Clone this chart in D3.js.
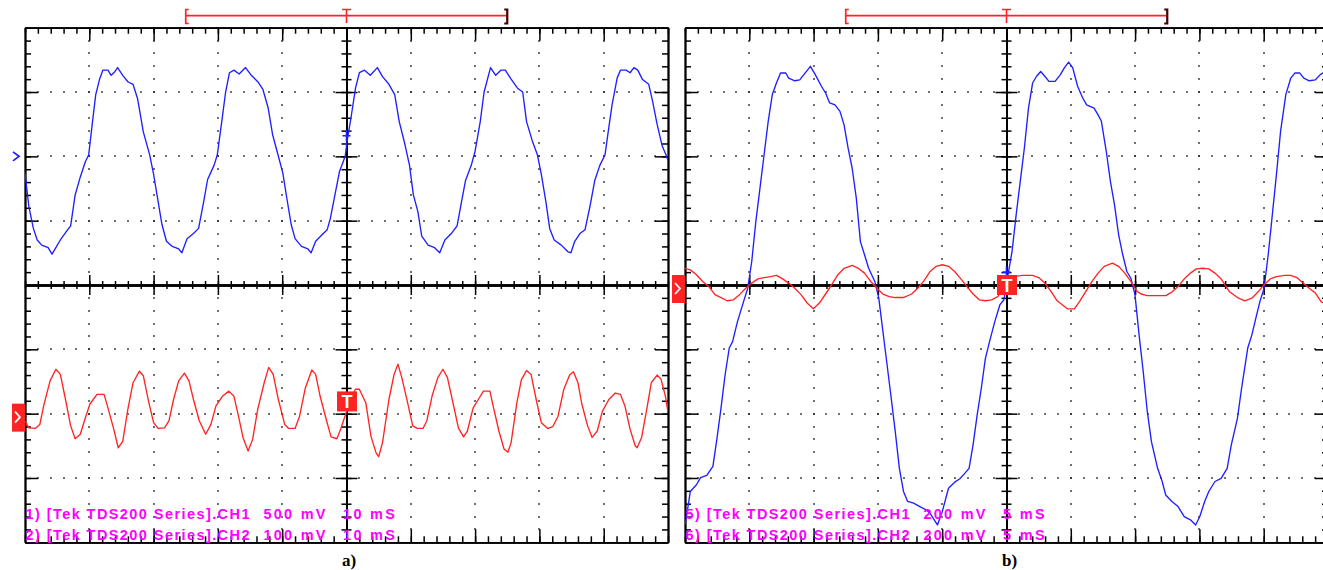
<!DOCTYPE html>
<html>
<head>
<meta charset="utf-8">
<title>TDS200 captures</title>
<script src="https://d3js.org/d3.v7.min.js"></script>
<style>
  body { margin: 0; background: #fff; }
  svg { display: block; }
  .frame path.domain { stroke: #000; stroke-width: 1.8; }
  .frame line { stroke: #000; stroke-width: 1.5; }
  .trace { fill: none; stroke-width: 1.35; stroke-linejoin: round; }
  .info { font-family: "Liberation Sans", Arial, sans-serif; font-weight: bold; font-size: 14.5px; fill: #ff00ff; }
  .caption { font-family: "Liberation Serif", "Times New Roman", serif; font-weight: bold; font-size: 17px; fill: #000; }
</style>
</head>
<body>
<svg id="scope" width="1323" height="570"></svg>
<script>
// scope settings for the two captures
const captions = ["a)", "b)"];
const msPerDiv = [10, 5];
const ch1mVPerDiv = [500, 200];
const ch2mVPerDiv = [100, 200];
const ch1Position = [2, 0];    // ground marker, in divisions from centre
const ch2Position = [-2, 0];
const ch1Labels = ["1) [Tek TDS200 Series].CH1", "5) [Tek TDS200 Series].CH1"];
const ch2Labels = ["2) [Tek TDS200 Series].CH2", "6) [Tek TDS200 Series].CH2"];
const ch1Volts = ["500 mV", "200 mV"];
const ch2Volts = ["100 mV", "200 mV"];
const timeLabels = ["10 mS", "5 mS"];
const trigLevelCh2 = [19, 0];   // mV
const ch1LevelMark = [160, 40]; // mV

// [time ms, mV]
const traceA1 = [[0.0,-130],[0.6,-390],[1.3,-560],[1.9,-650],[2.6,-690],[3.6,-710],[4.2,-760],[4.8,-710],[5.5,-650],[6.5,-580],[7.1,-540],[7.8,-300],[8.6,-160],[9.4,-40],[9.9,10],[10.5,270],[11.0,480],[11.6,600],[12.1,670],[12.9,670],[13.4,630],[14.0,660],[14.4,690],[15.2,630],[16.0,580],[16.8,560],[17.5,450],[18.4,190],[19.4,10],[20.0,-140],[20.7,-350],[21.3,-530],[22.0,-660],[22.9,-700],[23.9,-720],[24.4,-750],[25.2,-640],[26.2,-600],[27.0,-560],[27.8,-350],[28.4,-180],[29.4,-70],[29.9,10],[30.6,270],[31.2,500],[31.8,650],[32.5,670],[33.3,640],[34.3,690],[35.2,630],[36.2,580],[37.0,520],[37.8,380],[38.5,170],[39.2,40],[40.1,-130],[40.7,-320],[41.4,-530],[42.0,-640],[43.0,-700],[44.0,-720],[44.5,-750],[45.2,-660],[46.2,-610],[47.0,-570],[47.5,-480],[48.2,-300],[48.9,-120],[49.8,0],[50.1,120],[50.7,300],[51.4,530],[52.0,650],[52.8,670],[53.7,630],[54.8,690],[55.6,620],[56.6,560],[57.5,480],[58.2,270],[59.1,90],[59.8,-70],[60.4,-300],[61.1,-430],[61.7,-620],[62.7,-690],[63.7,-710],[64.5,-750],[65.3,-650],[66.3,-600],[67.2,-540],[67.9,-350],[68.5,-190],[69.4,-70],[70.0,40],[70.8,270],[71.4,500],[72.4,690],[73.2,630],[74.0,670],[74.7,670],[75.6,600],[76.6,530],[77.4,500],[78.0,270],[78.9,120],[79.7,10],[80.3,-140],[81.0,-350],[81.6,-560],[82.3,-650],[83.4,-690],[84.4,-740],[84.9,-750],[85.5,-660],[86.3,-600],[87.1,-570],[87.9,-380],[88.6,-190],[89.4,-70],[90.2,10],[90.7,190],[91.3,400],[92.1,610],[92.6,670],[93.5,670],[94.1,650],[94.7,690],[95.3,670],[96.0,600],[97.0,560],[97.6,430],[98.3,250],[99.1,80],[99.7,10],[100.0,-30]];

const traceA2 = [[0.0,-11],[0.6,-22],[1.6,-23],[2.3,-17],[2.9,12],[3.9,51],[4.8,69],[5.5,61],[6.3,22],[7.1,-19],[7.8,-39],[8.6,-32],[9.4,-6],[10.1,15],[11.2,30],[12.3,30],[12.9,9],[13.8,-24],[14.5,-53],[15.2,-43],[16.0,7],[16.8,48],[17.8,66],[18.4,59],[19.2,20],[20.0,-14],[20.7,-23],[21.7,-22],[22.4,-11],[23.1,22],[23.9,51],[24.8,63],[25.5,51],[26.2,22],[27.1,-11],[28.1,-32],[28.9,-17],[29.7,12],[30.7,27],[31.7,35],[32.5,27],[33.2,-4],[33.9,-37],[34.7,-58],[35.4,-40],[36.2,7],[37.2,48],[37.9,72],[38.6,61],[39.4,22],[40.4,-17],[41.0,-23],[42.0,-23],[42.7,-4],[43.6,40],[44.6,68],[45.2,61],[45.9,27],[46.9,-11],[47.6,-36],[48.5,-39],[49.1,-24],[49.9,0],[50.7,25],[51.4,38],[52.0,38],[53.0,17],[53.8,-35],[54.6,-61],[55.0,-67],[55.6,-45],[56.6,22],[57.4,61],[58.0,77],[58.6,56],[59.5,17],[60.3,-19],[61.0,-23],[61.9,-23],[62.5,-11],[63.3,27],[64.2,56],[65.0,69],[65.7,56],[66.6,15],[67.4,-22],[68.2,-36],[68.8,-27],[69.7,9],[70.5,22],[71.3,35],[72.3,35],[72.8,12],[73.7,-27],[74.5,-55],[75.1,-60],[75.6,-45],[76.5,17],[77.2,53],[78.0,67],[78.7,61],[79.5,22],[80.3,-14],[81.3,-23],[82.1,-20],[82.9,-4],[83.8,38],[84.7,60],[85.3,65],[86.0,48],[86.6,15],[87.5,-19],[88.2,-37],[89.0,-27],[89.8,4],[90.8,22],[91.8,32],[92.6,30],[93.3,12],[94.1,-24],[94.9,-50],[95.2,-53],[95.9,-37],[96.7,7],[97.4,48],[98.3,60],[98.9,54],[99.6,27],[100.0,2]];

const traceB1 = [[0.0,-745],[0.10,-725],[0.41,-642],[0.89,-621],[1.21,-599],[1.69,-592],[2.17,-564],[2.49,-476],[2.80,-383],[3.12,-279],[3.44,-196],[3.70,-176],[4.08,-114],[4.56,-51],[4.88,-10],[5.19,73],[5.51,198],[5.83,301],[6.15,405],[6.47,509],[6.79,592],[7.11,628],[7.43,659],[7.84,659],[8.06,643],[8.54,635],[8.92,638],[9.34,659],[9.75,680],[10.13,654],[10.61,618],[10.93,597],[11.25,566],[11.66,560],[12.05,540],[12.37,498],[12.68,426],[13.00,363],[13.32,270],[13.64,135],[13.96,94],[14.28,52],[14.76,11],[15.07,-41],[15.23,-93],[15.55,-196],[15.94,-321],[16.35,-456],[16.67,-570],[16.99,-642],[17.31,-673],[17.78,-678],[18.26,-689],[18.74,-699],[19.06,-710],[19.38,-730],[19.63,-746],[20.01,-704],[20.49,-632],[20.97,-613],[21.35,-603],[21.77,-585],[22.09,-570],[22.40,-497],[22.72,-404],[23.04,-321],[23.36,-228],[23.68,-176],[24.09,-114],[24.48,-62],[24.80,-46],[25.12,32],[25.43,104],[25.75,218],[26.07,322],[26.39,426],[26.71,550],[27.03,628],[27.34,649],[27.66,664],[27.98,649],[28.30,633],[28.78,633],[29.19,654],[29.51,676],[29.83,693],[30.15,675],[30.53,618],[30.91,583],[31.23,560],[31.81,550],[32.12,529],[32.38,509],[32.76,415],[33.08,322],[33.40,249],[33.72,156],[34.04,94],[34.36,42],[34.67,21],[34.99,-30],[35.31,-155],[35.63,-269],[35.95,-394],[36.27,-487],[36.75,-570],[37.07,-606],[37.38,-653],[37.86,-673],[38.34,-689],[38.82,-720],[39.30,-730],[39.71,-746],[40.03,-720],[40.41,-673],[40.73,-642],[41.21,-611],[41.69,-601],[42.16,-570],[42.48,-497],[42.96,-414],[43.28,-321],[43.76,-196],[44.08,-155],[44.39,-103],[44.71,-51],[45.03,-10],[45.35,94],[45.67,218],[45.99,343],[46.31,477],[46.72,592],[47.10,643],[47.42,659],[47.81,659],[48.12,643],[48.54,635],[49.02,638],[49.40,654],[49.59,659],[50.0,650]];

const traceB2 = [[0.00,52],[0.41,47],[0.89,32],[1.37,11],[1.85,-5],[2.33,-30],[2.80,-39],[3.28,-49],[3.76,-46],[4.24,-30],[4.72,-10],[5.19,6],[5.67,19],[6.15,23],[6.63,26],[7.11,30],[7.59,19],[8.06,6],[8.54,-10],[9.02,-30],[9.50,-56],[9.98,-74],[10.45,-56],[10.93,-28],[11.41,1],[11.89,32],[12.37,52],[13.00,61],[13.48,52],[13.96,37],[14.44,11],[14.92,-10],[15.39,-28],[15.87,-36],[16.35,-39],[16.99,-39],[17.62,-28],[18.10,-10],[18.58,13],[19.06,42],[19.54,58],[20.01,63],[20.49,58],[20.97,42],[21.45,19],[21.93,-5],[22.40,-28],[22.88,-46],[23.36,-49],[23.84,-46],[24.32,-36],[24.80,-10],[25.20,15],[25.60,26],[26.23,30],[27.03,30],[27.50,23],[27.98,6],[28.46,-20],[28.94,-49],[29.73,-74],[30.28,-74],[30.69,-51],[31.17,-20],[31.65,11],[32.12,37],[32.60,58],[33.24,68],[33.72,58],[34.20,37],[34.67,11],[35.15,-20],[35.47,-28],[35.95,-33],[36.59,-33],[37.38,-33],[37.86,-22],[38.34,-5],[38.82,19],[39.30,37],[39.77,50],[40.25,52],[40.73,50],[41.21,37],[41.69,19],[42.32,-20],[42.96,-39],[43.53,-49],[44.08,-41],[44.55,-22],[45.03,1],[45.51,19],[45.99,26],[46.63,30],[47.10,30],[47.58,23],[48.06,6],[48.54,-10],[49.02,-25],[49.49,-53],[50.0,-60]];

const ch1Traces = [traceA1, traceB1];
const ch2Traces = [traceA2, traceB2];

const svg = d3.select("#scope");
const panelLeft = [25, 685];
const panelTop = 27.7;
const panelW = 643;
const panelH = 514.6;
const blue = "#1f1fff";
const red = "#ff2424";

const minorX = d3.range(0, 51).map(k => k / 5);
const minorY = d3.range(0, 41).map(k => k / 5 - 4);
const majorX = d3.range(1, 10);
const majorY = d3.range(-3, 4);

// inward ticks (minor and major) along one edge, plus its line
function tickAxis(g, axisFn, scale, minorLen, majorLen, majors, transform) {
    const minors = scale.domain()[1] === 10 ? minorX : minorY;
    g.append("g").attr("class", "frame").attr("transform", transform)
        .call(axisFn(scale).tickValues(minors).tickSize(minorLen).tickSizeOuter(0).tickFormat(""));
    g.append("g").attr("class", "frame").attr("transform", transform)
        .call(axisFn(scale).tickValues(majors).tickSize(majorLen).tickSizeOuter(0).tickFormat(""));
}

captions.forEach((cap, i) => {
    const x0 = panelLeft[i];
    const g = svg.append("g");
    const bottom = panelTop + panelH;

    const divX = d3.scaleLinear().domain([0, 10]).range([x0, x0 + panelW]);
    const divY = d3.scaleLinear().domain([-4, 4]).range([bottom, panelTop]);
    const tScale = d3.scaleLinear().domain([0, 10 * msPerDiv[i]]).range([x0, x0 + panelW]);
    const y1 = d3.scaleLinear()
        .domain([(-4 - ch1Position[i]) * ch1mVPerDiv[i], (4 - ch1Position[i]) * ch1mVPerDiv[i]])
        .range([bottom, panelTop]);
    const y2 = d3.scaleLinear()
        .domain([(-4 - ch2Position[i]) * ch2mVPerDiv[i], (4 - ch2Position[i]) * ch2mVPerDiv[i]])
        .range([bottom, panelTop]);

    // dotted graticule
    const dots = [];
    majorX.filter(d => d !== 5).forEach(dx => minorY.filter(d => Math.abs(d) < 4).forEach(dy => dots.push([dx, dy])));
    majorY.filter(d => d !== 0).forEach(dy => minorX.filter(d => d > 0 && d < 10).forEach(dx => dots.push([dx, dy])));
    g.append("g").selectAll("rect").data(dots).join("rect")
        .attr("x", d => Math.round(divX(d[0])) - 0.8)
        .attr("y", d => Math.round(divY(d[1])) - 0.8)
        .attr("width", 1.6).attr("height", 1.6)
        .attr("fill", "#222");

    // border with inward ticks
    tickAxis(g, d3.axisBottom, divX, 6, 13, majorX, `translate(0,${panelTop})`);
    tickAxis(g, d3.axisTop, divX, 6, 13, majorX, `translate(0,${bottom})`);
    tickAxis(g, d3.axisRight, divY, 6, 13, majorY, `translate(${x0},0)`);
    tickAxis(g, d3.axisLeft, divY, 6, 13, majorY, `translate(${x0 + panelW},0)`);

    // centre cross
    tickAxis(g, d3.axisLeft, divY, 5, 11, majorY, `translate(${divX(5)},0)`);
    tickAxis(g, d3.axisRight, divY, 5, 11, majorY, `translate(${divX(5)},0)`);
    tickAxis(g, d3.axisTop, divX, 4, 10, majorX, `translate(0,${divY(0)})`);
    tickAxis(g, d3.axisBottom, divX, 4, 10, majorX, `translate(0,${divY(0)})`);

    // traces
    g.append("clipPath").attr("id", "clip" + i)
        .append("rect").attr("x", x0).attr("y", panelTop).attr("width", panelW).attr("height", panelH);
    const line1 = d3.line().x(d => tScale(d[0])).y(d => y1(d[1]));
    const line2 = d3.line().x(d => tScale(d[0])).y(d => y2(d[1]));
    g.append("path").datum(ch1Traces[i]).attr("class", "trace")
        .attr("clip-path", `url(#clip${i})`).attr("stroke", blue).attr("d", line1);
    g.append("path").datum(ch2Traces[i]).attr("class", "trace")
        .attr("clip-path", `url(#clip${i})`).attr("stroke", red).attr("d", line2);

    // horizontal position bracket above the screen
    const bx0 = divX(2.5), bx1 = divX(7.5), bc = divX(5);
    g.append("line").attr("x1", bx0).attr("x2", bx1).attr("y1", 15.7).attr("y2", 15.7)
        .attr("stroke", red).attr("stroke-width", 1.7);
    g.append("path").attr("d", `M${bx0 + 3},9.5H${bx0}V23.5H${bx0 + 3}`)
        .attr("fill", "none").attr("stroke", red).attr("stroke-width", 1.7);
    g.append("path").attr("d", `M${bx1 - 3},9.5H${bx1}V23.5H${bx1 - 3}`)
        .attr("fill", "none").attr("stroke", "#400").attr("stroke-width", 2.2);
    g.append("path").attr("d", `M${bc - 4.5},9.5H${bc + 4.5}M${bc},9.5V23`)
        .attr("fill", "none").attr("stroke", red).attr("stroke-width", 1.6);

    // channel ground markers
    const g1 = y1(0), g2 = y2(0);
    g.append("path").attr("d", `M${x0 - 12},${g1 - 4.5}L${x0 - 6},${g1}L${x0 - 12},${g1 + 4.5}`)
        .attr("fill", "none").attr("stroke", blue).attr("stroke-width", 1.8);
    g.append("rect").attr("x", x0 - 13).attr("y", g2 - 10).attr("width", 13).attr("height", 28).attr("fill", red);
    g.append("path").attr("d", `M${x0 - 10},${g2 - 2}L${x0 - 5},${g2 + 3.5}L${x0 - 10},${g2 + 9}`)
        .attr("fill", "none").attr("stroke", "#fff").attr("stroke-width", 1.8);

    // CH1 level mark
    const m1 = y1(ch1LevelMark[i]);
    g.append("path").attr("d", `M${bc - 4},${m1}H${bc + 4}M${bc},${m1 - 6}V${m1 + 6}`)
        .attr("stroke", blue).attr("stroke-width", 1.6);

    // trigger box
    const ty = y2(trigLevelCh2[i]);
    g.append("rect").attr("x", bc - 9.5).attr("y", ty - 10).attr("width", 20).attr("height", 20).attr("fill", red);
    g.append("text").attr("x", bc + 0.5).attr("y", ty + 6.5).attr("text-anchor", "middle")
        .attr("fill", "#fff").attr("font-family", "Liberation Sans, Arial, sans-serif")
        .attr("font-weight", "bold").attr("font-size", 18).text("T");

    // readout text
    const rows = [[ch1Labels[i], ch1Volts[i], 519], [ch2Labels[i], ch2Volts[i], 540]];
    rows.forEach(r => {
        g.append("text").attr("class", "info").attr("x", x0 + 0.5).attr("y", r[2])
            .attr("textLength", 224).attr("lengthAdjust", "spacing").text(r[0]);
        g.append("text").attr("class", "info").attr("x", x0 + 238.5).attr("y", r[2])
            .attr("textLength", 62).attr("lengthAdjust", "spacing").text(r[1]);
        g.append("text").attr("class", "info").attr("x", x0 + 318).attr("y", r[2])
            .attr("textLength", timeLabels[i].length * 10.4).attr("lengthAdjust", "spacing").text(timeLabels[i]);
    });

    g.append("text").attr("class", "caption").attr("x", divX(5) - 4.5).attr("y", 566).text(cap);
});
</script>
</body>
</html>
